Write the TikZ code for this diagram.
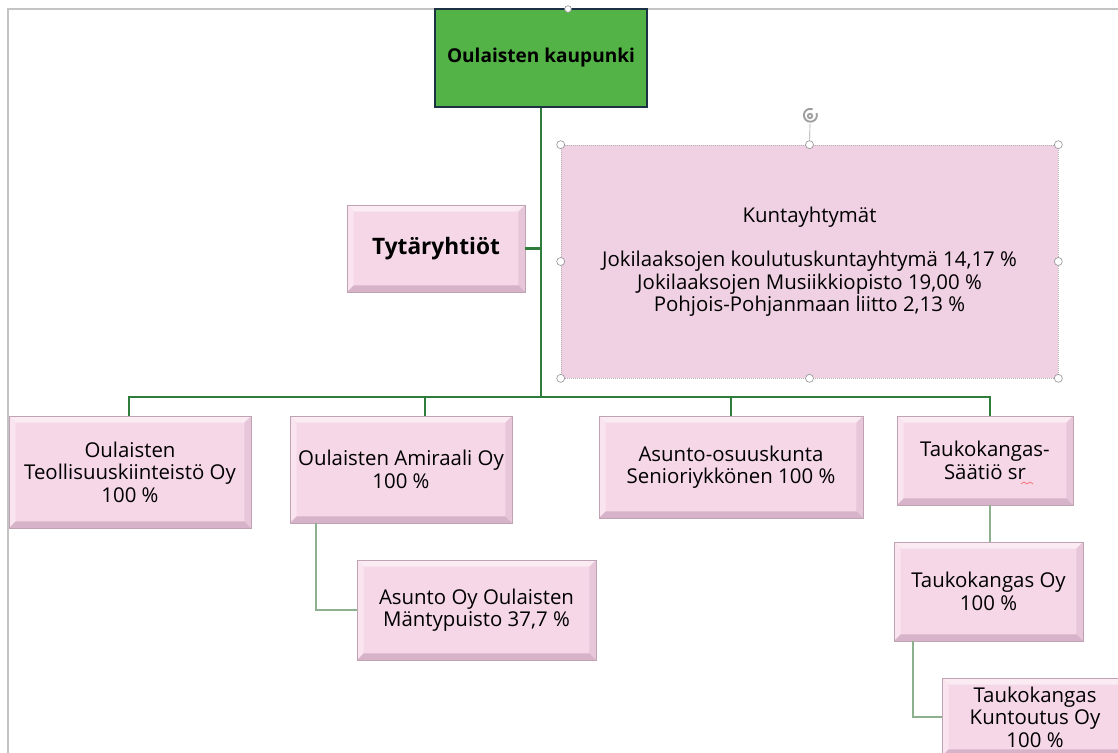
\documentclass[tikz,border=0pt]{standalone}
\usepackage{fontspec}
\setmainfont{Open Sans}
\definecolor{trunk}{HTML}{2E7D3A}
\definecolor{subline}{HTML}{8DB08F}
\definecolor{rootfill}{HTML}{53B347}
\definecolor{rootdraw}{HTML}{1C3144}
\definecolor{pinkin}{HTML}{F5D7E7}
\definecolor{bevtop}{HTML}{FBECF4}
\definecolor{bevleft}{HTML}{F9E4EF}
\definecolor{bevright}{HTML}{E6C6D8}
\definecolor{bevbot}{HTML}{D6B3C8}
\definecolor{pinkdraw}{HTML}{BFA3B3}
\definecolor{kfill}{HTML}{EFD1E3}
\definecolor{frame}{HTML}{C4C4C4}
\tikzset{
  wh/.style 2 args={minimum width=#1*0.75pt, minimum height=#2*0.75pt},
  txt/.style={font=\fontsize{15.3}{16.8}\selectfont, text=black, align=center, inner sep=0pt},
  bevel/.style={txt, draw=pinkdraw, line width=0.4pt, fill=pinkin,
    path picture={
      \def\b{5pt}
      \fill[bevtop] (path picture bounding box.north west) -- (path picture bounding box.north east)
        -- ([xshift=-\b,yshift=-\b]path picture bounding box.north east) -- ([xshift=\b,yshift=-\b]path picture bounding box.north west) -- cycle;
      \fill[bevleft] (path picture bounding box.north west) -- (path picture bounding box.south west)
        -- ([xshift=\b,yshift=\b]path picture bounding box.south west) -- ([xshift=\b,yshift=-\b]path picture bounding box.north west) -- cycle;
      \fill[bevright] (path picture bounding box.north east) -- (path picture bounding box.south east)
        -- ([xshift=-\b,yshift=\b]path picture bounding box.south east) -- ([xshift=-\b,yshift=-\b]path picture bounding box.north east) -- cycle;
      \fill[bevbot] (path picture bounding box.south west) -- (path picture bounding box.south east)
        -- ([xshift=-\b,yshift=\b]path picture bounding box.south east) -- ([xshift=\b,yshift=\b]path picture bounding box.south west) -- cycle;
    }},
  trunkline/.style={draw=trunk, line width=1.9pt},
  subconn/.style={draw=subline, line width=1.5pt},
  handle/.style={circle, draw=gray!80, fill=white, line width=0.5pt, inner sep=0pt, minimum size=6pt},
}
\begin{document}
\begin{tikzpicture}[x=0.75pt, y=-0.75pt]
\useasboundingbox (0,0) rectangle (1118,753);
\fill[white] (0,0) rectangle (1118,753);
% page frame
\draw[frame, line width=0.8pt] (8,753) -- (8,9) -- (1118,9);

% nodes
\node[draw=rootdraw, line width=1.6pt, fill=rootfill, wh={212}{98},
      font=\fontsize{14.3}{16}\selectfont\bfseries, inner sep=0pt] (root) at (541,58) {Oulaisten kaupunki};
\node[bevel, wh={178}{87}, font=\fontsize{17}{19}\selectfont\bfseries] (tyt) at (436,248.5) {Tytäryhtiöt};
\node[txt, fill=kfill, draw=gray!60, densely dotted, line width=0.5pt, wh={497}{233}] (kunta) at (809.5,261.5)
  {Kuntayhtymät\\[16.8pt]Jokilaaksojen koulutuskuntayhtymä 14,17 \%\\Jokilaaksojen Musiikkiopisto 19,00 \%\\Pohjois-Pohjanmaan liitto 2,13 \%};

\node[bevel, wh={242}{112}] (teol) at (130,472) {Oulaisten\\Teollisuuskiinteistö Oy\\100 \%};
\node[bevel, wh={222}{107}] (amir) at (401,469.5) {Oulaisten Amiraali Oy\\100 \%};
\node[bevel, wh={264}{102}] (seni) at (731,467) {Asunto-osuuskunta\\Senioriykkönen 100 \%};
\node[bevel, wh={176}{89}] (saat) at (985,460.5) {Taukokangas-\\Säätiö sr};
\node[bevel, wh={239}{100}] (mant) at (476.5,610) {Asunto Oy Oulaisten\\Mäntypuisto 37,7 \%};
\node[bevel, wh={189}{99}] (tauk) at (988.5,591.5) {Taukokangas Oy\\100 \%};
\node[bevel, wh={186}{78}] (kunt) at (1035,717) {Taukokangas\\Kuntoutus Oy\\100 \%};

% spelling squiggle under "sr"
\draw[red!70, line width=0.4pt] (1021,484) -- (1024,482) -- (1027,484) -- (1030,482) -- (1033,484);

% connectors
\coordinate (j) at (541,397);
\coordinate (b1) at (129,397);
\coordinate (b2) at (425,397);
\coordinate (b3) at (731,397);
\coordinate (b4) at (990,397);
\draw[trunkline] (root.south) -- (j);
\draw[trunkline] (tyt.east) -- (tyt.east -| j);
\draw[trunkline, line join=miter] (teol.north -| b1) -- (b1) -- (b4) -- (saat.north -| b4);
\draw[trunkline] (b2) -- (amir.north -| b2);
\draw[trunkline] (b3) -- (seni.north -| b3);

\coordinate (a1) at (316,0);
\draw[subconn] (amir.south -| a1) |- (mant.west);
\coordinate (t1) at (990,0);
\draw[subconn] (saat.south -| t1) -- (tauk.north -| t1);
\coordinate (t2) at (913,0);
\draw[subconn] (tauk.south -| t2) |- (kunt.west);

% selection handles
\draw[gray!70, line width=0.5pt] (kunta.north) -- (810,124);
\draw[gray!75, line width=1.4pt] (816.5,113) arc (-20:290:6.5);
\draw[gray!75, line width=1.4pt] (810,116) circle (2.2);
\foreach \a in {north west,north,north east,east,south east,south,south west,west}
  \node[handle] at (kunta.\a) {};
\node[handle, minimum size=5pt] at (568,9) {};
\end{tikzpicture}
\end{document}
